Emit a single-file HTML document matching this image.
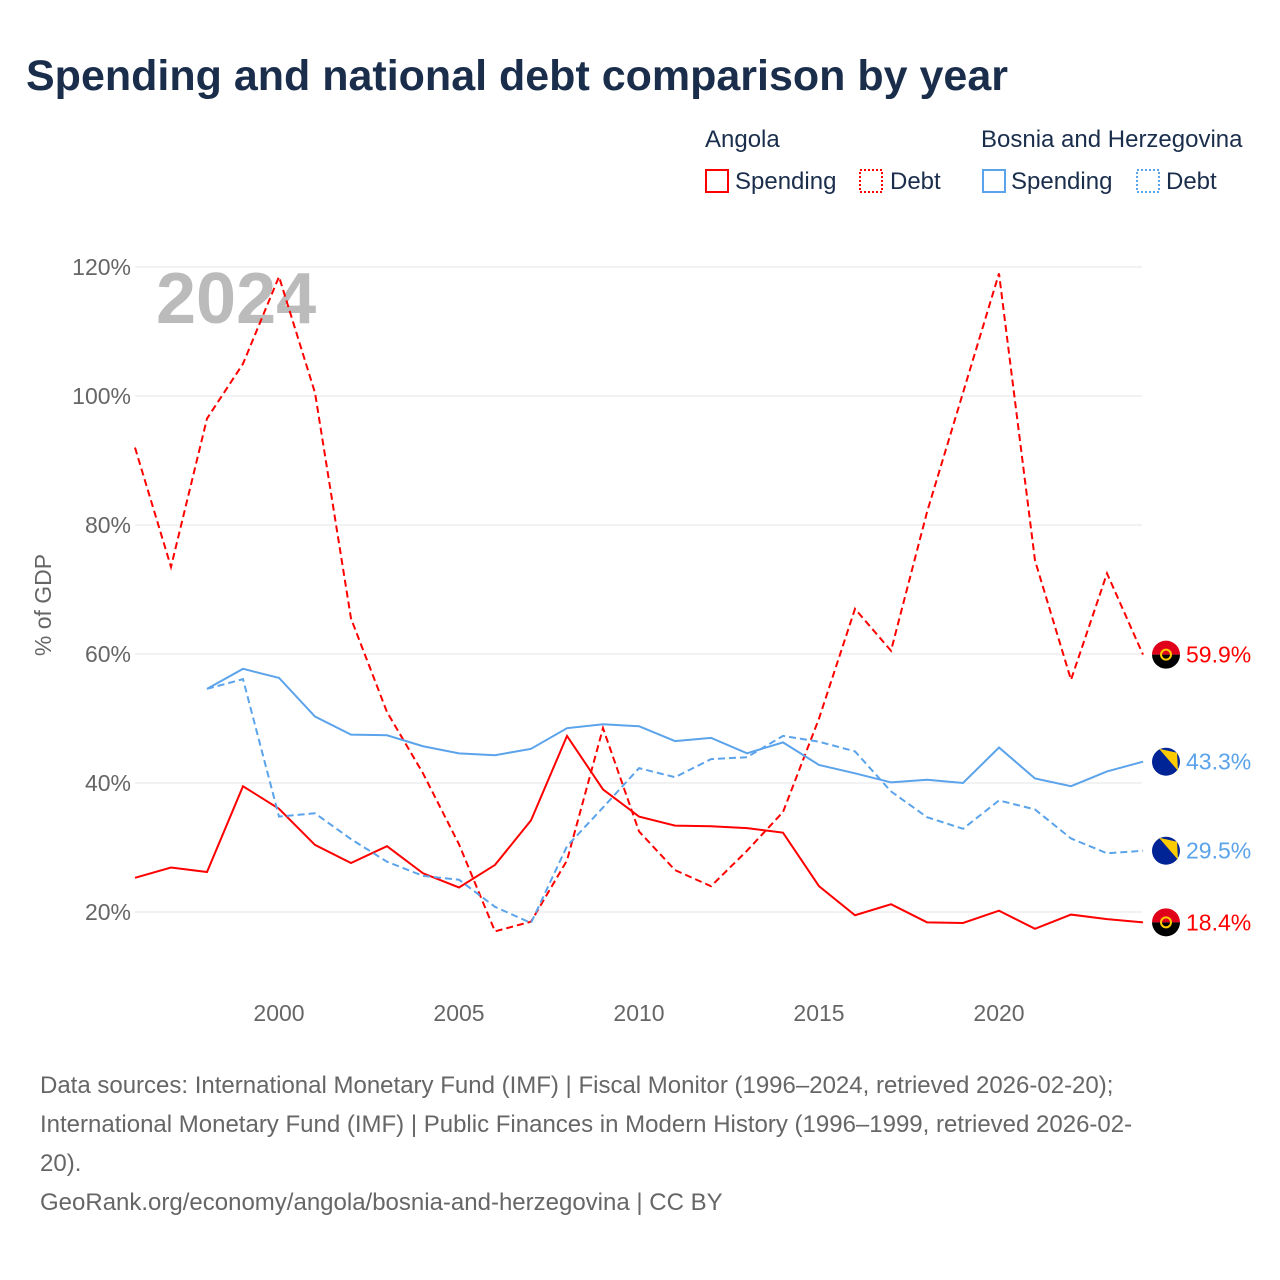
<!DOCTYPE html>
<html><head><meta charset="utf-8"><style>
body{margin:0;background:#fff;font-family:"Liberation Sans",sans-serif;}
#wrap{position:relative;width:1280px;height:1280px;overflow:hidden;}
h1{position:absolute;left:26px;top:52px;margin:0;font-size:43px;color:#1a2e4c;font-weight:bold;letter-spacing:0px;white-space:nowrap;}
.src{position:absolute;left:40px;top:1066px;width:1230px;font-size:24px;line-height:39px;color:#666;white-space:nowrap;}
</style></head><body>
<div id="wrap">
<h1>Spending and national debt comparison by year</h1>
<svg id="chart" width="1280" height="1280" style="position:absolute;left:0;top:0">
 <g font-size="24" fill="#1a2e4c">
  <text x="705" y="147">Angola</text>
  <text x="981" y="147">Bosnia and Herzegovina</text>
  <rect x="706" y="170" width="22" height="22" fill="none" stroke="#f00" stroke-width="2"/>
  <text x="735" y="189">Spending</text>
  <rect x="860" y="170" width="22" height="22" fill="none" stroke="#f00" stroke-width="2" stroke-dasharray="2,2"/>
  <text x="890" y="189">Debt</text>
  <rect x="983" y="170" width="22" height="22" fill="none" stroke="#5ba3ea" stroke-width="2"/>
  <text x="1011" y="189">Spending</text>
  <rect x="1137" y="170" width="22" height="22" fill="none" stroke="#5ba3ea" stroke-width="2" stroke-dasharray="2,2"/>
  <text x="1166" y="189">Debt</text>
 </g>
 <text x="156" y="323" font-size="72" font-weight="bold" fill="#bbb">2024</text>
 <text transform="translate(51,605) rotate(-90)" text-anchor="middle" font-size="23" fill="#666">% of GDP</text>
 <g id="grid"></g><g id="series"></g>
</svg>
<div class="src">Data sources: International Monetary Fund (IMF) | Fiscal Monitor (1996–2024, retrieved 2026-02-20);<br>International Monetary Fund (IMF) | Public Finances in Modern History (1996–1999, retrieved 2026-02-<br>20).<br>GeoRank.org/economy/angola/bosnia-and-herzegovina | CC BY</div>
</div>
<script>
const yTicks=[20,40,60,80,100,120];
const xTicks=[2000,2005,2010,2015,2020];
const angolaDebt=[92,73.5,96.5,105,118.5,100.5,65.5,51,41.5,30.5,17,18.5,28,48.5,32.5,26.5,24,29.5,35.5,50,67,60.5,82,100.5,119,74.5,56,72.5,59.9];
const angolaSpending=[25.3,26.9,26.2,39.5,36,30.4,27.6,30.2,26,23.8,27.3,34.2,47.3,39,34.8,33.4,33.3,33,32.3,24,19.5,21.2,18.4,18.3,20.2,17.4,19.6,18.9,18.4];
const bosniaSpending=[54.6,57.7,56.3,50.3,47.5,47.4,45.7,44.6,44.3,45.3,48.5,49.1,48.8,46.5,47,44.6,46.3,42.8,41.5,40.1,40.5,40,45.5,40.7,39.5,41.8,43.3];
const bosniaDebt=[54.6,56.1,34.8,35.3,31.3,27.8,25.6,25,20.8,18.3,30.2,36.2,42.3,40.9,43.7,44,47.3,46.4,44.9,38.7,34.7,32.9,37.3,35.9,31.4,29.1,29.5];
const x=yr=>135+(yr-1996)*36;
const y=v=>1041-v*6.45;
const NS='http://www.w3.org/2000/svg';
const grid=document.getElementById('grid'),ser=document.getElementById('series');
function mk(tag,attrs,parent){const e=document.createElementNS(NS,tag);for(const k in attrs)e.setAttribute(k,attrs[k]);parent.appendChild(e);return e;}
yTicks.forEach(t=>{
 const l=mk('line',{x1:135,x2:1142,y1:y(t),y2:y(t),stroke:'#e6e6e6'},grid);
 
 
 const tx=mk('text',{x:131,y:y(t)+8,'text-anchor':'end','font-size':23,fill:'#666'},grid);
 tx.textContent=t+'%';
 
 
});
xTicks.forEach(t=>{
 const tx=mk('text',{x:x(t),y:1021,'text-anchor':'middle','font-size':23,fill:'#666'},grid);
 tx.textContent=t;
 
 
});
function line(data,start,color,dash,name){
 const pts=data.map((v,i)=>x(start+i)+','+y(v)).join(' ');
 const p=mk('polyline',{points:pts,fill:'none',stroke:color,'stroke-width':2,'stroke-dasharray':dash},ser);
 
 
}
line(angolaDebt,1996,'#f00','7,4','angola-debt-line');
line(angolaSpending,1996,'#f00','none','angola-spending-line');
line(bosniaSpending,1998,'#5ba3ea','none','bosnia-spending-line');
line(bosniaDebt,1998,'#5ba3ea','7,4','bosnia-debt-line');
function flag(v,type,color,name){
 const g=mk('g',{},ser);
 
 
 const cx=1166,cy=y(v);
 if(type==='ao'){
  mk('path',{d:`M${cx-14},${cy} A14,14 0 0 1 ${cx+14},${cy} Z`,fill:'#e0001a'},g);
  mk('path',{d:`M${cx-14},${cy} A14,14 0 0 0 ${cx+14},${cy} Z`,fill:'#000'},g);
  mk('circle',{cx:cx,cy:cy,r:5,fill:'none',stroke:'#fc0','stroke-width':2},g);
 } else {
  mk('circle',{cx:cx,cy:cy,r:14,fill:'#002395'},g);
  mk('path',{d:`M${cx-7},${cy-13} L${cx+11},${cy-9} L${cx+12},${cy+9} Z`,fill:'#fecb00'},g);
 }
 const t=mk('text',{x:1186,y:cy+8,'font-size':23,fill:color},g);
 t.textContent=v+'%';
}
flag(angolaDebt[angolaDebt.length-1],'ao','#f00','label-angola-debt');
flag(bosniaSpending[bosniaSpending.length-1],'ba','#5ba3ea','label-bosnia-spending');
flag(bosniaDebt[bosniaDebt.length-1],'ba','#5ba3ea','label-bosnia-debt');
flag(angolaSpending[angolaSpending.length-1],'ao','#f00','label-angola-spending');
</script>
</body></html>
